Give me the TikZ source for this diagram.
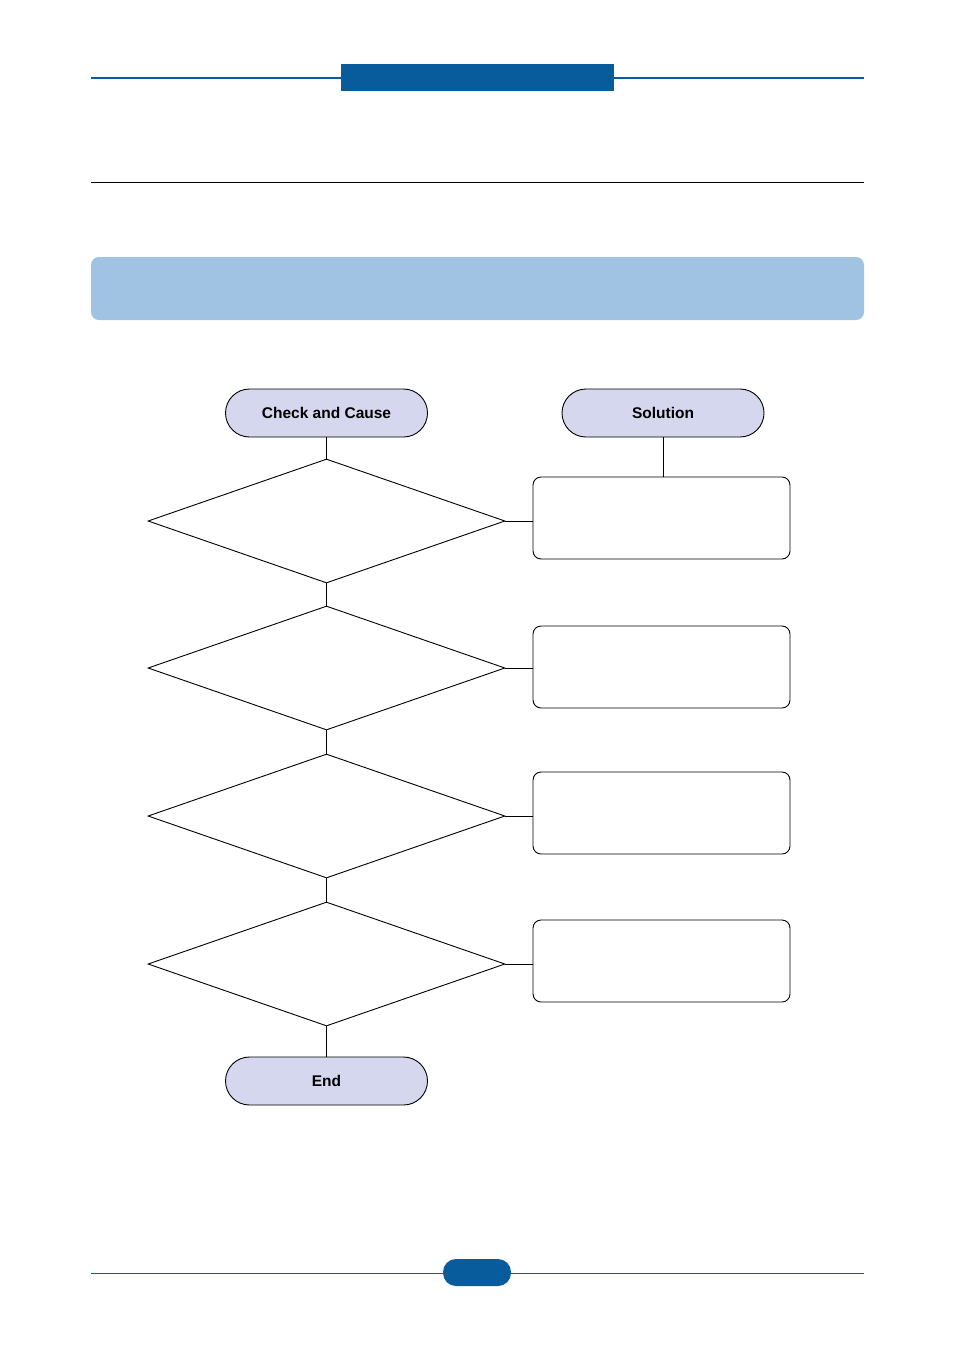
\documentclass[tikz,border=0pt]{standalone}
\usepackage{fontspec}
\setmainfont{Liberation Sans}
\usetikzlibrary{shapes.geometric}
\definecolor{hdrblue}{HTML}{085C9C}
\definecolor{barblue}{HTML}{A0C3E4}
\definecolor{pillfill}{HTML}{D5D7EE}
\begin{document}
\begin{tikzpicture}[x=1pt,y=-1pt,
  pill/.style={draw=black,fill=pillfill,rounded corners=24pt,line width=0.9pt,inner sep=0pt,
    minimum width=202pt,minimum height=48pt,font=\fontsize{15.5}{18}\selectfont\bfseries},
  decision/.style={draw=black,line width=0.9pt,diamond,inner sep=0pt,minimum width=357pt,minimum height=124pt,aspect=2.88},
  solbox/.style={draw=black,line width=0.9pt,rounded corners=8pt,minimum width=257pt,minimum height=82pt,inner sep=0pt},
  link/.style={draw=black,line width=0.8pt}]
\useasboundingbox (0,0) rectangle (954,1350);
% header
\draw[hdrblue,line width=2pt] (91,78) -- (864,78);
\fill[hdrblue] (341,64) rectangle (614,91);
\draw[black,line width=1pt] (91,182) -- (864,182);
\fill[barblue,rounded corners=8pt] (91,257) rectangle (864,320);
% flowchart
\node[pill] (cc) at (326.5,413) {\raisebox{-1pt}{Check and Cause}};
\node[pill] (sol) at (663,413) {\raisebox{-1pt}{Solution}};
\node[decision] (d1) at (326.5,521) {};
\node[decision] (d2) at (326.5,668) {};
\node[decision] (d3) at (326.5,816) {};
\node[decision] (d4) at (326.5,964) {};
\node[solbox] (b1) at (661.5,518) {};
\node[solbox] (b2) at (661.5,667) {};
\node[solbox] (b3) at (661.5,813) {};
\node[solbox] (b4) at (661.5,961) {};
\node[pill] (end) at (326.5,1081) {\raisebox{-1pt}{End}};
\draw[link] (cc.south) -- (d1.north);
\draw[link] (d1.south) -- (d2.north);
\draw[link] (d2.south) -- (d3.north);
\draw[link] (d3.south) -- (d4.north);
\draw[link] (d4.south) -- (end.north);
\draw[link] (sol.south) -- (sol.south |- b1.north);
\draw[link] (d1.east) -- (d1.east -| b1.west);
\draw[link] (d2.east) -- (d2.east -| b2.west);
\draw[link] (d3.east) -- (d3.east -| b3.west);
\draw[link] (d4.east) -- (d4.east -| b4.west);
% footer
\draw[hdrblue,line width=1pt] (91,1273) -- (864,1273);
\fill[hdrblue,rounded corners=13pt] (443,1259) rectangle (511,1286);
\end{tikzpicture}
\end{document}
